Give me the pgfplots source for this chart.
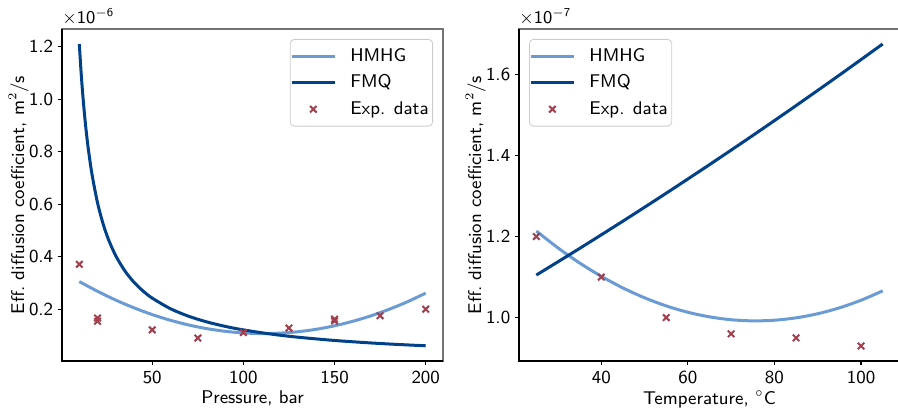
\documentclass[border=0pt]{standalone}
\usepackage{pgfplots}
\pgfplotsset{compat=1.18}
\definecolor{hmhg}{HTML}{6A9BD4}
\definecolor{fmq}{HTML}{00418A}
\definecolor{expc}{HTML}{A0404F}
\newcommand{\ff}{\sffamily\fontsize{9.2}{11}\selectfont}
\pgfplotsset{
  myax/.style={
    scale only axis, width=190.5pt, height=166pt,
    anchor=south west,
    font=\ff,
    tick label style={font=\ff},
    /pgf/number format/assume math mode=true,
    tick align=outside, tick pos=left, major tick length=2.2pt,
    xticklabel style={inner sep=2.5pt},
    every tick/.style={black, line width=0.6pt},
    axis line style={draw=black!55, line width=0.6pt},
    scaled ticks=false,
    yticklabel style={inner sep=2pt, /pgf/number format/.cd, fixed, fixed zerofill, precision=1},
    legend cell align=left,
    legend style={draw=black!20, rounded corners=2pt, font=\ff, inner xsep=0pt, inner ysep=2.5pt, row sep=1.2pt},
    legend image code/.code={\draw[##1] (0pt,0pt) -- (21.5pt,0pt);},
    ylabel={Eff.\ diffusion coefficient, m$^2$/s},
    ylabel style={inner sep=1pt, yshift=-3pt},
    xlabel style={inner sep=1pt},
    after end axis/.code={\draw[black, line width=0.7pt] (rel axis cs:0,1) -- (rel axis cs:0,0) -- (rel axis cs:1,0);},
  },
  hm/.style={color=hmhg, line width=1.5pt, no marks, smooth},
  fm/.style={color=fmq, line width=1.5pt, no marks, smooth},
  ex/.style={only marks, mark=x, mark size=2.3pt, color=expc, mark options={line width=1pt},
    legend image code/.code={\draw[##1] plot coordinates {(10.75pt,0pt)}; \path (0pt,0pt) (21.5pt,0pt);}},
}
\begin{document}
\begin{tikzpicture}
\path[use as bounding box] (0,0) rectangle (449pt,205pt);
\begin{axis}[myax, at={(31pt,24.5pt)},
  xmin=0.5, xmax=209.5, ymin=0.0025, ymax=1.2675,
  xtick={50,100,150,200}, ytick={0.2,0.4,0.6,0.8,1.0,1.2},
  xlabel={Pressure, bar},
  legend style={at={(1,1)}, anchor=north east, xshift=-5pt, yshift=-5pt},
]
\addplot[hm] coordinates {(10,0.305) (20,0.268) (30,0.2345) (40,0.205) (50,0.1793) (60,0.1576) (70,0.1397) (80,0.1257) (90,0.1156) (100,0.1094) (110,0.107) (120,0.1086) (130,0.114) (140,0.1233) (150,0.1366) (160,0.1537) (170,0.1747) (180,0.1996) (190,0.2283) (200,0.261)};
\addlegendentry{\hspace{5pt}HMHG}
\addplot[fm] coordinates {(10,1.21) (11,1.1) (12,1.0083) (13,0.9308) (14,0.8643) (15,0.8067) (17,0.7118) (20,0.605) (23,0.5261) (26,0.4654) (30,0.4033) (35,0.3457) (40,0.3025) (45,0.2689) (50,0.242) (60,0.2017) (70,0.1729) (80,0.1513) (90,0.1344) (100,0.121) (115,0.1052) (130,0.0931) (150,0.0807) (170,0.0712) (185,0.0654) (200,0.0605)};
\addlegendentry{\hspace{5pt}FMQ}
\addplot[ex] coordinates {(10,0.371) (20,0.166) (20,0.154) (50,0.121) (75,0.09) (100,0.111) (125,0.128) (150,0.162) (150,0.155) (175,0.175) (200,0.2)};
\addlegendentry{\hspace{5pt}Exp. data}
\end{axis}
\node[anchor=south west, inner sep=0pt, font=\ff] at (31pt,192pt) {$\times\mathsf{10}^{\mathsf{-6}}$};
\begin{axis}[myax, at={(259.5pt,24.5pt)},
  xmin=21, xmax=109, ymin=0.893, ymax=1.712,
  xtick={40,60,80,100}, ytick={1.0,1.2,1.4,1.6},
  xlabel={Temperature, $^\circ$C},
  legend style={at={(0,1)}, anchor=north west, xshift=5pt, yshift=-5pt},
]
\addplot[hm] coordinates {(25,1.2136) (30,1.172) (35,1.1348) (40,1.1019) (45,1.0732) (50,1.0489) (55,1.0289) (60,1.0132) (65,1.0019) (70,0.9948) (75,0.992) (80,0.9936) (85,0.9995) (90,1.0096) (95,1.0241) (100,1.0429) (105,1.066)};
\addlegendentry{\hspace{5pt}HMHG}
\addplot[fm] coordinates {(25,1.105) (35,1.1707) (45,1.238) (55,1.3069) (65,1.3774) (75,1.4494) (85,1.5231) (95,1.5983) (105,1.675)};
\addlegendentry{\hspace{5pt}FMQ}
\addplot[ex] coordinates {(25,1.2) (40,1.1) (55,1.0) (70,0.96) (85,0.95) (100,0.93)};
\addlegendentry{\hspace{5pt}Exp. data}
\end{axis}
\node[anchor=south west, inner sep=0pt, font=\ff] at (259.5pt,192pt) {$\times\mathsf{10}^{\mathsf{-7}}$};
\end{tikzpicture}
\end{document}
